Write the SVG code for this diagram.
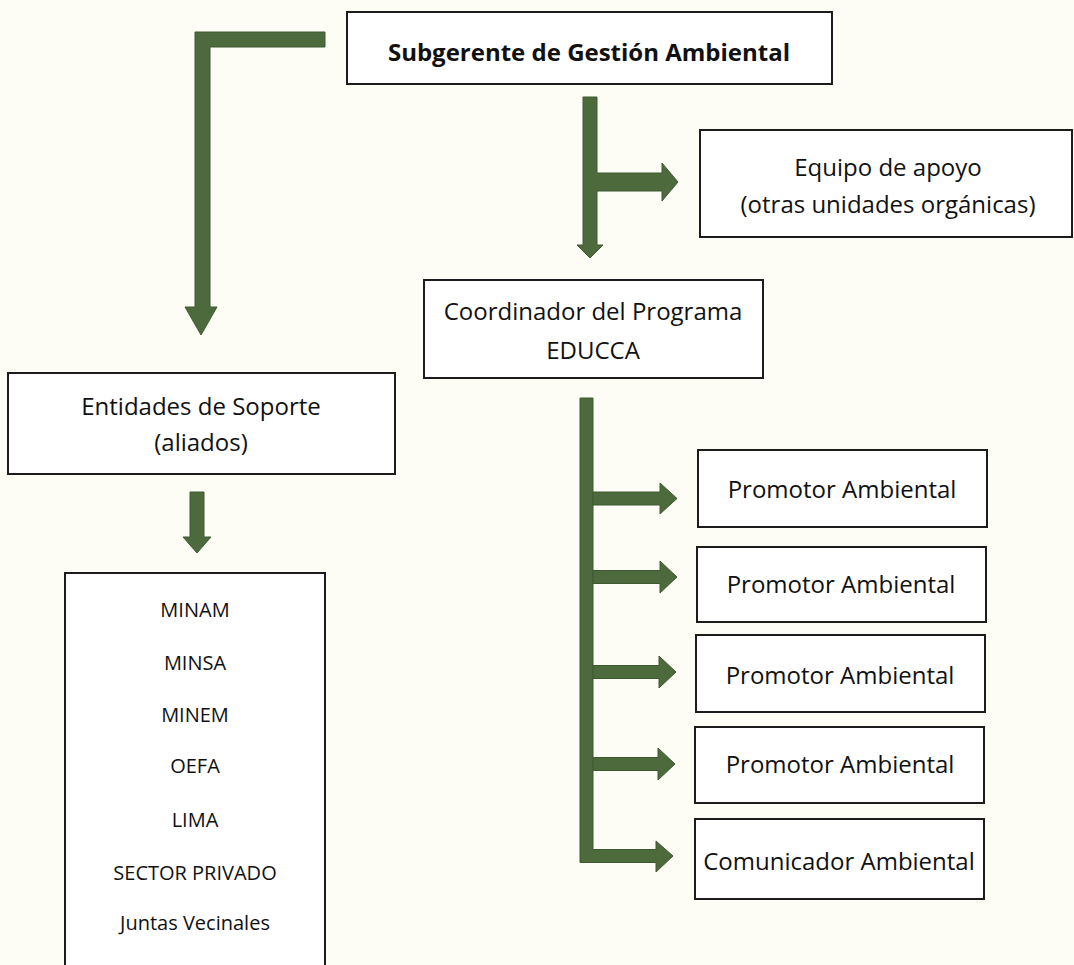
<svg xmlns="http://www.w3.org/2000/svg" width="1074" height="965" viewBox="0 0 1074 965">
<style>
.box{fill:#ffffff;stroke:#1c1c1c;stroke-width:2}
.t{font-family:"Open Sans","Liberation Sans",sans-serif;font-size:24px;fill:#111111;text-anchor:middle}
.b{font-weight:bold}
.s{font-size:20px}
.arr{fill:#4d6a3d;stroke:#3f5a32;stroke-width:1}
</style>
<rect width="1074" height="965" fill="#fdfdf6"/>
<g id="connectors">
<polygon class="arr" points="325,32 195,32 195,307 185,307 201,335 217,307 210,307 210,47 325,47"/>
<polygon class="arr" points="190,492 204,492 204,537 211,537 197,553 183,537 190,537"/>
<polygon class="arr" points="583,97 597,97 597,173 662,173 662,163 678,182 662,201 662,191 597,191 597,245 603,245 590,258 577,245 583,245"/>
<polygon class="arr" points="580,398 593,398 593,849.5 656,849.5 656,841 673,856 656,872 656,862.5 580,862.5"/>
<polygon class="arr" points="593,492 660,492 660,483 677,498.5 660,514 660,505 593,505"/>
<polygon class="arr" points="593,570.5 660,570.5 660,561 677,577 660,593 660,583.5 593,583.5"/>
<polygon class="arr" points="593,665.5 659,665.5 659,656 676,672 659,688 659,678.5 593,678.5"/>
<polygon class="arr" points="593,757.5 658,757.5 658,748 675,764 658,780 658,770.5 593,770.5"/>
</g>
<g id="subgerente">
<rect class="box" x="347" y="12" width="485" height="72"/>
<text class="t b" x="589" y="61">Subgerente de Gestión Ambiental</text>
</g>
<g id="equipo">
<rect class="box" x="700" y="130" width="372" height="107"/>
<text class="t" x="888" y="176">Equipo de apoyo</text>
<text class="t" x="888" y="213">(otras unidades orgánicas)</text>
</g>
<g id="coordinador">
<rect class="box" x="424" y="280" width="339" height="98"/>
<text class="t" x="593" y="320">Coordinador del Programa</text>
<text class="t" x="593" y="359">EDUCCA</text>
</g>
<g id="entidades">
<rect class="box" x="8" y="373" width="387" height="101"/>
<text class="t" x="201" y="415">Entidades de Soporte</text>
<text class="t" x="201" y="451">(aliados)</text>
</g>
<g id="lista">
<rect class="box" x="65" y="573" width="260" height="400"/>
<text class="t s" x="195" y="617">MINAM</text>
<text class="t s" x="195" y="670">MINSA</text>
<text class="t s" x="195" y="722">MINEM</text>
<text class="t s" x="195" y="773">OEFA</text>
<text class="t s" x="195" y="827">LIMA</text>
<text class="t s" x="195" y="880">SECTOR PRIVADO</text>
<text class="t s" x="195" y="930">Juntas Vecinales</text>
</g>
<g id="promotor1">
<rect class="box" x="698" y="450" width="289" height="77"/>
<text class="t" x="842" y="498">Promotor Ambiental</text>
</g>
<g id="promotor2">
<rect class="box" x="697" y="547" width="289" height="75"/>
<text class="t" x="841" y="593">Promotor Ambiental</text>
</g>
<g id="promotor3">
<rect class="box" x="696" y="635" width="289" height="77"/>
<text class="t" x="840" y="684">Promotor Ambiental</text>
</g>
<g id="promotor4">
<rect class="box" x="695" y="727" width="289" height="76"/>
<text class="t" x="840" y="773">Promotor Ambiental</text>
</g>
<g id="comunicador">
<rect class="box" x="695" y="819" width="289" height="80"/>
<text class="t" x="839" y="870">Comunicador Ambiental</text>
</g>
</svg>
